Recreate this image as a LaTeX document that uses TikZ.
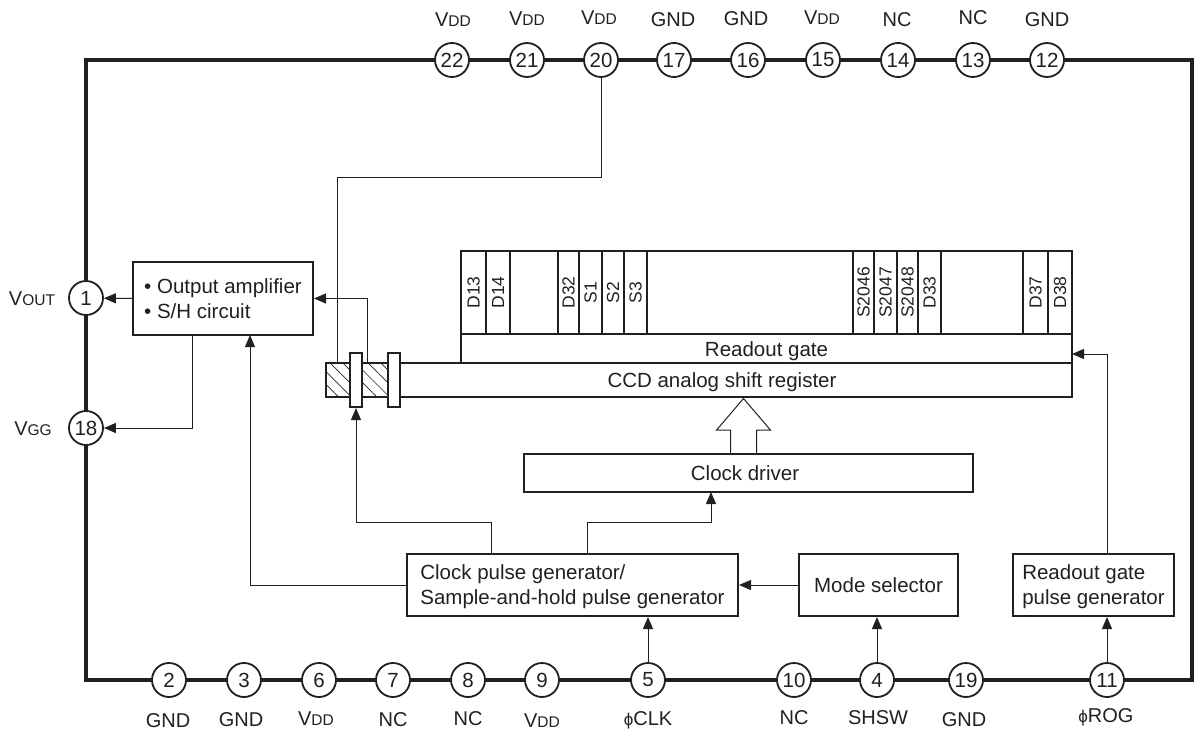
\documentclass[tikz,border=0pt]{standalone}
\usepackage{fontspec}
\usepackage{graphicx}
\usepackage{xcolor}
\usepackage{tikz}
\usetikzlibrary{arrows.meta,patterns.meta,shapes.arrows}
\setmainfont{Liberation Sans}
\definecolor{ink}{HTML}{231F20}
\newcommand{\lowcap}[1]{{\fontsize{15.5}{15.5}\selectfont #1}}
\newcommand{\phisign}{{\fontsize{17}{17}\selectfont ϕ}}
\begin{document}
\begin{tikzpicture}[
  x=1pt, y=-1pt, color=ink, font=\fontsize{20.5}{25}\selectfont,
  frame/.style={draw, line width=3.4pt, minimum width=1106pt, minimum height=620pt},
  pin/.style={draw, circle, line width=1.8pt, fill=white, minimum size=34pt, inner sep=0pt},
  pinlabel/.style={inner sep=0pt, font=\fontsize{20}{20}\selectfont},
  box/.style={draw, line width=2pt, inner sep=0pt, align=center, text height=15pt, text depth=0pt},
  leftbox/.style={draw, line width=2pt, inner sep=0pt, align=left, text depth=-2pt},
  cell/.style={draw, line width=1.6pt, inner sep=0pt, minimum height=83pt, font=\fontsize{17.5}{17.5}\selectfont},
  gatebar/.style={draw, line width=2pt, fill=white, minimum width=12pt, minimum height=54pt, inner sep=0pt},
  conn/.style={-{Triangle[length=12pt,width=10pt]}, line width=1pt},
  wire/.style={line width=1pt},
  hollow/.style={draw, line width=1pt, shape=single arrow, shape border rotate=90, inner sep=12.5pt,
    minimum height=55pt, minimum width=53pt, single arrow head extend=14pt, single arrow tip angle=81}
]
\useasboundingbox (0,0) rectangle (1196,733);
\node[frame] (chip) at (639,370) {};

\node[pin] (p22) at (452,60) {22};
\node[pin] (p21) at (527,60) {21};
\node[pin] (p20) at (601,60) {20};
\node[pin] (p17) at (674,60) {17};
\node[pin] (p16) at (748,60) {16};
\node[pin] (p15) at (823,60) {15};
\node[pin] (p14) at (898,60) {14};
\node[pin] (p13) at (973,60) {13};
\node[pin] (p12) at (1047,60) {12};
\node[pin] (p1) at (86,298) {1};
\node[pin] (p18) at (86,428) {18};
\node[pin] (p2) at (169,680) {2};
\node[pin] (p3) at (244,680) {3};
\node[pin] (p6) at (319,680) {6};
\node[pin] (p7) at (393,680) {7};
\node[pin] (p8) at (468,680) {8};
\node[pin] (p9) at (542,680) {9};
\node[pin] (p5) at (648,680) {5};
\node[pin] (p10) at (794,680) {10};
\node[pin] (p4) at (877,680) {4};
\node[pin] (p19) at (966,680) {19};
\node[pin] (p11) at (1107,680) {11};

\node[pinlabel] (l22) at (453,20) {V\lowcap{DD}};
\node[pinlabel] (l21) at (527,19) {V\lowcap{DD}};
\node[pinlabel] (l20) at (599,18) {V\lowcap{DD}};
\node[pinlabel] (l17) at (673,20) {GND};
\node[pinlabel] (l16) at (746,19) {GND};
\node[pinlabel] (l15) at (822,18) {V\lowcap{DD}};
\node[pinlabel] (l14) at (897,20) {NC};
\node[pinlabel] (l13) at (973,18) {NC};
\node[pinlabel] (l12) at (1047,20) {GND};
\node[pinlabel] (l1) at (32,299) {V\lowcap{OUT}};
\node[pinlabel] (l18) at (33,429) {V\lowcap{GG}};
\node[pinlabel] (l2) at (168,721) {GND};
\node[pinlabel] (l3) at (241,720) {GND};
\node[pinlabel] (l6) at (316,719) {V\lowcap{DD}};
\node[pinlabel] (l7) at (393,720) {NC};
\node[pinlabel] (l8) at (468,719) {NC};
\node[pinlabel] (l9) at (542,721) {V\lowcap{DD}};
\node[pinlabel] (l5) at (648,720) {\phisign CLK};
\node[pinlabel] (l10) at (794,718) {NC};
\node[pinlabel] (l4) at (878,718) {SHSW};
\node[pinlabel] (l19) at (964,720) {GND};
\node[pinlabel] (l11) at (1106,717) {\phisign ROG};

\node[leftbox, minimum width=180pt, minimum height=73pt] (amp) at (223,298.5) {\textbullet\ Output amplifier\\\textbullet\ S/H circuit};
\node[leftbox, minimum width=331pt, minimum height=62pt] (clk) at (572.5,585) {Clock pulse generator/\\Sample-and-hold pulse generator};
\node[box, minimum width=159pt, minimum height=62pt] (mode) at (878.5,585) {Mode selector};
\node[leftbox, minimum width=161pt, minimum height=62pt] (rogbox) at (1093.5,585) {Readout gate\\pulse generator};
\node[box, minimum width=449pt, minimum height=38pt] (drv) at (748.5,473) {Clock driver\hspace*{7pt}};

\node[cell, minimum width=25pt] (d13) at (473.5,292.5) {\rotatebox{90}{D13}};
\node[cell, minimum width=24pt] (d14) at (498,292.5) {\rotatebox{90}{D14}};
\node[cell, minimum width=48pt] (gapa) at (534,292.5) {};
\node[cell, minimum width=21pt] (d32) at (568.5,292.5) {\rotatebox{90}{D32}};
\node[cell, minimum width=23pt] (s1) at (590.5,292.5) {\rotatebox{90}{S1}};
\node[cell, minimum width=22pt] (s2) at (613,292.5) {\rotatebox{90}{S2}};
\node[cell, minimum width=23pt] (s3) at (635.5,292.5) {\rotatebox{90}{S3}};
\node[cell, minimum width=206pt] (gapb) at (750,292.5) {};
\node[cell, minimum width=21pt] (s2046) at (863.5,292.5) {\rotatebox{90}{S2046}};
\node[cell, minimum width=23pt] (s2047) at (885.5,292.5) {\rotatebox{90}{S2047}};
\node[cell, minimum width=21pt] (s2048) at (907.5,292.5) {\rotatebox{90}{S2048}};
\node[cell, minimum width=23pt] (d33) at (929.5,292.5) {\rotatebox{90}{D33}};
\node[cell, minimum width=82pt] (gapc) at (982,292.5) {};
\node[cell, minimum width=25pt] (d37) at (1035.5,292.5) {\rotatebox{90}{D37}};
\node[cell, minimum width=24pt] (d38) at (1060,292.5) {\rotatebox{90}{D38}};

\node[box, minimum width=611pt, minimum height=29pt] (rgate) at (766.5,348.5) {Readout gate};
\node[box, minimum width=672pt, minimum height=34pt] (reg) at (736,380) {CCD analog shift register\hspace*{28pt}};
\node[draw, line width=2pt, inner sep=0pt, minimum width=62pt, minimum height=34pt, pattern={Lines[angle=-45,distance=9pt,line width=0.7pt]}, pattern color=ink] (hatch) at (357,380) {};
\node[gatebar] (gatea) at (356,380) {};
\node[gatebar] (gateb) at (394,380) {};
\node[hollow, anchor=tail] (clkarrow) at (743.5,454) {};

\coordinate (ampout) at (192,335);
\coordinate (ampin) at (250,335);
\coordinate (vddbend) at (337,177);
\coordinate (vddin) at (337,363);
\coordinate (shout) at (367,363);
\coordinate (clkouta) at (491,554);
\coordinate (benda) at (356,522);
\coordinate (clkoutb) at (587,554);
\coordinate (bendb) at (711,522);
\coordinate (drvin) at (711,492);
\coordinate (rogout) at (1107,554);
\coordinate (rogin) at (1072,354);

\draw[conn] (amp.west) -- (p1);
\draw[conn] (ampout) |- (p18);
\draw[conn] (clk.west) -| (ampin);
\draw[wire] (p20) |- (vddbend) -- (vddin);
\draw[conn] (shout) |- (amp.east);
\draw[conn] (clkouta) |- (benda) -- (gatea);
\draw[conn] (clkoutb) |- (bendb) -- (drvin);
\draw[conn] (mode) -- (clk);
\draw[conn] (p5) -- (p5 |- clk.south);
\draw[conn] (p4) -- (p4 |- mode.south);
\draw[conn] (p11) -- (p11 |- rogbox.south);
\draw[conn] (rogout) |- (rogin);
\end{tikzpicture}
\end{document}
